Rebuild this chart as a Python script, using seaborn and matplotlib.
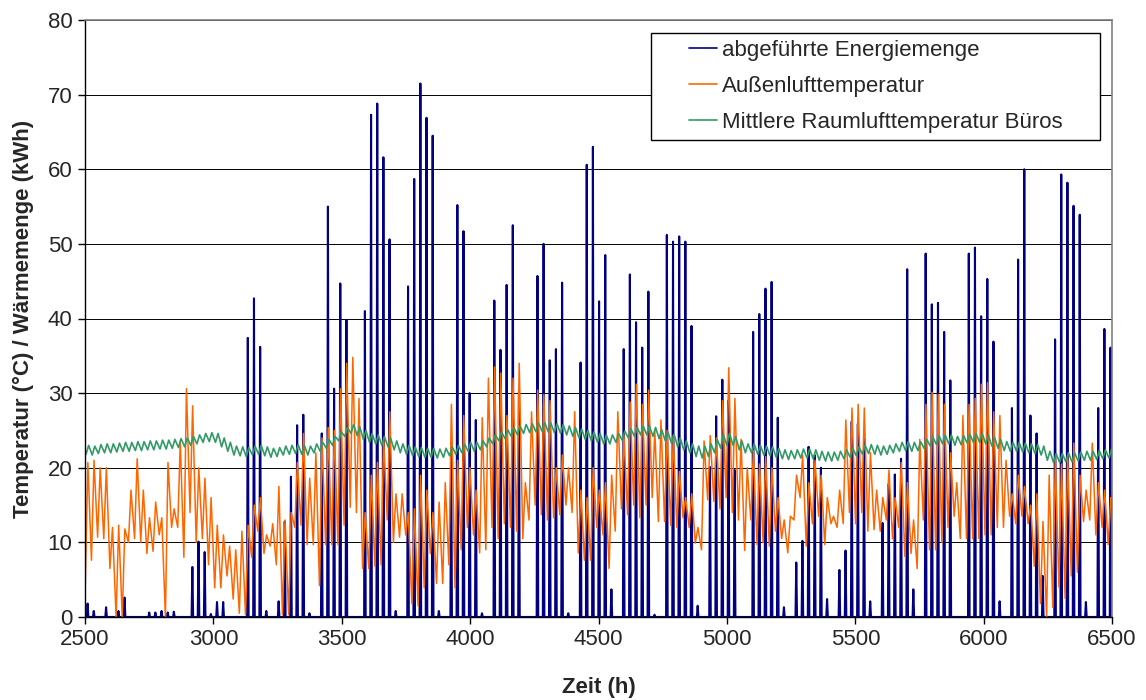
import numpy as np
import matplotlib
matplotlib.use("Agg")
import matplotlib.pyplot as plt
import seaborn as sns

# hourly simulation, 2500 h .. 6500 h, one value per day
start_hour = 2500
end_hour = 6500

# daily peak of the removed energy (kWh)
energy_peak = [1.8, 0.8, 0, 1.3, 0, 0.8, 2.6, 0, 0, 0,
               0.6, 0.6, 0.8, 0.6, 0.7, 0, 0, 6.7, 10.1, 8.7,
               0.4, 2.0, 2.0, 0, 0, 0, 37.4, 42.7, 36.2, 0.8,
               0, 2.1, 12.8, 18.8, 25.7, 27.1, 0.5, 0, 24.6, 55.0,
               30.6, 44.7, 39.8, 0, 0, 41.0, 67.3, 68.8, 61.6, 50.6,
               0.8, 0, 44.3, 58.7, 71.5, 66.9, 64.5, 0.8, 0, 23.3,
               55.2, 51.7, 30.0, 26.4, 0.5, 0, 42.4, 35.8, 44.5, 52.5,
               30.2, 0, 0, 45.7, 50.0, 34.4, 35.9, 44.8, 0.5, 0,
               34.1, 60.6, 63.0, 42.3, 48.5, 3.7, 0, 35.9, 45.9, 39.5,
               36.1, 43.6, 0.3, 0, 51.2, 50.3, 51.0, 50.3, 39.0, 1.5,
               0, 20.1, 26.9, 31.8, 29.0, 19.7, 0, 0, 38.2, 40.6,
               44.0, 44.9, 26.7, 1.3, 0, 7.3, 10.2, 22.8, 21.7, 20.0,
               2.4, 0, 6.3, 8.9, 26.2, 25.9, 23.8, 2.1, 0, 12.6,
               17.8, 19.1, 21.2, 46.6, 3.7, 0, 48.7, 41.9, 42.1, 38.2,
               31.7, 0, 0, 48.7, 49.5, 40.3, 45.3, 36.9, 2.1, 0,
               28.0, 47.9, 60.0, 27.0, 24.6, 5.5, 0, 37.2, 59.3, 58.2,
               55.1, 53.9, 2.0, 0, 28.0, 38.6, 36.1]

# outdoor air temperature, daily max / min (°C)
outdoor_max = [20.7, 21.0, 20.0, 20.0, 12.0, 12.3, 11.8, 17.0, 21.2, 17.0,
               13.3, 15.4, 13.3, 20.7, 14.5, 23.6, 30.6, 28.3, 20.0, 18.6,
               16.0, 12.3, 11.0, 9.5, 9.0, 11.5, 12.3, 15.0, 16.0, 11.0,
               12.5, 17.5, 13.0, 14.0, 20.7, 24.6, 18.6, 22.0, 24.0, 25.4,
               25.0, 30.6, 34.0, 34.8, 29.3, 14.0, 19.0, 20.7, 24.0, 27.5,
               16.5, 16.5, 14.0, 14.5, 19.0, 17.0, 14.0, 15.4, 18.0, 28.5,
               21.0, 27.0, 20.0, 17.0, 26.7, 32.0, 33.5, 32.7, 27.0, 32.0,
               34.0, 18.0, 27.5, 30.4, 29.8, 29.0, 20.0, 21.7, 20.0, 27.5,
               17.0, 16.0, 20.0, 17.0, 18.0, 19.0, 27.5, 24.3, 28.8, 31.2,
               28.5, 30.4, 25.0, 26.4, 25.0, 24.3, 19.5, 16.0, 16.5, 12.0,
               23.6, 24.3, 24.0, 29.0, 33.4, 29.3, 23.8, 20.0, 22.3, 20.5,
               21.5, 20.0, 16.0, 13.0, 13.5, 19.0, 21.7, 18.0, 21.0, 19.0,
               16.0, 13.5, 17.0, 26.4, 28.0, 28.5, 28.0, 22.0, 17.0, 16.0,
               19.7, 16.0, 20.7, 18.0, 13.0, 23.8, 28.5, 30.1, 29.8, 28.5,
               22.0, 18.0, 27.0, 28.5, 29.3, 31.2, 31.4, 27.5, 27.0, 21.0,
               16.5, 19.0, 17.5, 15.0, 16.5, 12.8, 19.0, 21.2, 20.5, 21.7,
               23.3, 19.0, 17.0, 23.3, 18.0, 17.0, 16.0]
outdoor_min = [4.5, 7.6, 10.7, 10.5, 6.5, 0.0, 0.0, 10.0, 10.5, 10.0,
               8.5, 8.8, 11.0, 0.0, 12.0, 12.0, 8.0, 14.0, 10.0, 10.5,
               7.0, 3.9, 3.9, 5.5, 2.4, 0.5, 0.3, 8.0, 11.5, 8.5,
               9.5, 7.0, 0.3, 0.3, 12.0, 12.3, 9.7, 9.7, 4.2, 9.7,
               9.7, 9.7, 12.3, 14.7, 14.0, 6.5, 6.5, 6.8, 7.0, 13.0,
               10.0, 10.7, 11.0, 1.8, 1.5, 3.9, 8.5, 4.5, 4.5, 7.0,
               3.9, 9.0, 12.0, 11.0, 8.6, 9.0, 12.0, 10.5, 12.5, 12.0,
               11.5, 10.5, 13.0, 15.0, 13.7, 13.0, 13.3, 13.7, 15.0, 14.0,
               8.6, 7.6, 7.6, 12.0, 11.0, 6.5, 11.5, 14.5, 13.7, 15.0,
               13.3, 15.0, 16.0, 12.8, 12.8, 12.3, 12.0, 13.3, 12.0, 9.9,
               9.0, 15.7, 15.5, 14.5, 16.0, 14.0, 13.0, 8.9, 13.0, 9.7,
               10.0, 9.5, 11.5, 10.5, 8.6, 13.0, 16.0, 9.5, 12.5, 13.5,
               9.7, 12.5, 12.0, 12.5, 14.0, 12.5, 14.0, 11.5, 11.7, 11.5,
               13.0, 10.5, 12.0, 8.1, 8.5, 6.5, 13.0, 9.0, 9.0, 10.0,
               12.0, 13.5, 10.5, 10.5, 10.5, 10.5, 11.0, 11.0, 12.0, 12.0,
               13.5, 12.5, 13.5, 12.5, 6.8, 1.8, 0.0, 1.3, 4.0, 2.5,
               5.5, 6.0, 12.8, 13.0, 11.0, 12.0, 9.7]

# mean office room air temperature, daily max / min (°C)
room_max = [23.0, 22.9, 23.1, 23.2, 23.2,
            23.3, 23.4, 23.4, 23.5, 23.5, 23.6, 23.6, 23.7, 23.7, 23.8, 23.9,
            24.0, 24.2, 24.4, 24.6, 24.7, 24.6,
            24.0, 23.4, 22.9,
            22.8, 22.7, 22.9, 23.0, 22.8, 22.6, 22.7, 22.9, 23.0, 23.1, 23.0, 22.9, 23.2, 23.4, 23.8, 24.2,
            24.8, 25.4, 25.8, 25.5,
            25.0, 24.6, 24.4, 24.2, 24.0, 23.6,
            23.2, 23.0, 22.8, 22.7, 22.6, 22.6, 22.5, 22.6, 22.8, 23.0,
            23.2, 23.4, 23.4, 23.6,
            24.0, 24.4, 24.8, 25.1, 25.4, 25.6,
            25.8, 25.9, 26.0, 26.1, 26.0, 25.9, 25.8, 25.6, 25.4, 25.2,
            25.0, 24.8, 24.6, 24.4, 24.4, 24.6, 24.9, 25.2, 25.4, 25.6,
            25.6, 25.4, 25.1, 24.8, 24.5,
            24.0, 23.6, 23.2, 22.9, 22.9,
            23.2, 23.8, 24.4, 24.6,
            24.2, 23.6, 23.2, 23.2,
            23.0, 22.9, 22.8, 22.6,
            22.4, 22.3, 22.4, 22.5, 22.5, 22.4, 22.2, 22.1, 22.1, 22.2, 22.4, 22.6,
            22.8, 23.0, 23.1, 23.0, 22.9, 23.0,
            23.2, 23.4, 23.5, 23.4, 23.5,
            23.8, 24.1, 24.3, 24.4, 24.4, 24.2, 24.3, 24.5, 24.6, 24.6, 24.4, 24.1,
            23.8, 23.5, 23.4, 23.4, 23.3, 23.2, 23.1, 22.9,
            22.2, 21.9, 21.9, 22.0, 22.0, 22.1, 22.2, 22.2, 22.3, 22.4, 22.5]
room_min = [21.8, 21.7, 21.9, 22.0, 22.0,
            22.1, 22.2, 22.2, 22.3, 22.3, 22.4, 22.4, 22.5, 22.5, 22.6, 22.7,
            22.8, 23.0, 23.2, 23.4, 23.5, 23.4,
            22.8, 22.2, 21.7,
            21.6, 21.5, 21.7, 21.8, 21.6, 21.4, 21.5, 21.7, 21.8, 21.9, 21.8, 21.7, 22.0, 22.2, 22.6, 23.0,
            23.6, 24.2, 24.6, 24.3,
            23.8, 23.4, 23.2, 23.0, 22.8, 22.4,
            22.0, 21.8, 21.6, 21.5, 21.4, 21.4, 21.3, 21.4, 21.6, 21.8,
            22.0, 22.2, 22.2, 22.4,
            22.8, 23.2, 23.6, 23.9, 24.2, 24.4,
            24.6, 24.7, 24.8, 24.9, 24.8, 24.7, 24.6, 24.4, 24.2, 24.0,
            23.8, 23.6, 23.4, 23.2, 23.2, 23.4, 23.7, 24.0, 24.2, 24.4,
            24.4, 24.2, 23.9, 23.6, 23.3,
            22.8, 22.4, 22.0, 21.5, 21.3,
            21.5, 22.0, 22.6, 23.0,
            23.0, 22.4, 22.0, 22.0,
            21.8, 21.7, 21.6, 21.4,
            21.2, 21.1, 21.2, 21.3, 21.3, 21.2, 21.0, 20.9, 20.9, 21.0, 21.2, 21.4,
            21.6, 21.8, 21.9, 21.8, 21.7, 21.8,
            22.0, 22.2, 22.3, 22.2, 22.3,
            22.6, 22.9, 23.1, 23.2, 23.2, 23.0, 23.1, 23.3, 23.4, 23.4, 23.2, 22.9,
            22.6, 22.3, 22.2, 22.2, 22.1, 22.0, 21.9, 21.7,
            21.0, 20.7, 20.7, 20.8, 20.8, 20.9, 21.0, 21.0, 21.1, 21.2, 21.3]

series_names = ["abgeführte Energiemenge",
                "Außenlufttemperatur",
                "Mittlere Raumlufttemperatur Büros"]
x_ticks = [2500, 3000, 3500, 4000, 4500, 5000, 5500, 6000, 6500]
y_ticks = [0, 10, 20, 30, 40, 50, 60, 70, 80]


def main():
    n = len(energy_peak)
    day0 = start_hour + 24 * np.arange(n)
    zero = np.zeros(n)

    # energy: off at night, one spike in the afternoon
    e_t = np.column_stack([day0, day0 + 7, day0 + 10, day0 + 13]).ravel()
    e_v = np.column_stack([zero, zero, energy_peak, zero]).ravel()
    # temperatures: morning minimum, afternoon maximum
    o_t = np.column_stack([day0 + 1, day0 + 11]).ravel()
    o_v = np.column_stack([outdoor_min, outdoor_max]).ravel()
    r_t = np.column_stack([day0 + 4, day0 + 14]).ravel()
    r_v = np.column_stack([room_min, room_max]).ravel()

    sns.set_style("white")
    plt.rcParams["font.family"] = ["Liberation Sans", "DejaVu Sans"]

    fig = plt.figure(figsize=(11.46, 7), dpi=100)
    ax = fig.add_axes([0.0742, 0.1186, 0.8962, 0.8528])

    ax.yaxis.grid(True, color="black", linewidth=0.7)
    ax.set_axisbelow(True)

    sns.lineplot(x=e_t, y=e_v, ax=ax, color="#000080", linewidth=1.5,
                 sort=False, estimator=None, label=series_names[0])
    sns.lineplot(x=o_t, y=o_v, ax=ax, color="#FF6600", linewidth=1.1,
                 sort=False, estimator=None, label=series_names[1])
    sns.lineplot(x=r_t, y=r_v, ax=ax, color="#339966", linewidth=1.2,
                 sort=False, estimator=None, label=series_names[2])

    ax.set_xlim(start_hour, end_hour)
    ax.set_ylim(0, 80)
    ax.set_xticks(x_ticks)
    ax.set_yticks(y_ticks)
    ax.tick_params(axis="both", labelsize=16, direction="out",
                   length=5, width=1, color="black", pad=4, left=True, bottom=True)

    for side in ["left", "bottom"]:
        ax.spines[side].set_color("black")
        ax.spines[side].set_linewidth(1)
    for side in ["top", "right"]:
        ax.spines[side].set_color("#808080")
        ax.spines[side].set_linewidth(1.2)

    ax.set_xlabel("Zeit (h)", fontsize=16, fontweight="bold", labelpad=19)
    ax.set_ylabel("Temperatur (°C) / Wärmemenge (kWh)", fontsize=16,
                  fontweight="bold", labelpad=10)

    # wide Excel-style legend box with short line keys
    leg = ax.legend(loc="upper left", bbox_to_anchor=(0.551, 0.0, 0.4372, 0.978),
                    mode="expand", borderaxespad=0, fontsize=16, frameon=True,
                    fancybox=False, framealpha=1, edgecolor="black",
                    handlelength=2.66, handletextpad=0.23, labelspacing=0.68,
                    borderpad=0.3)
    leg.get_frame().set_linewidth(1)
    for line in leg.get_lines():
        xd = np.asarray(line.get_xdata(), dtype=float)
        line.set_xdata([xd[0] + 0.525 * (xd[-1] - xd[0]), xd[-1]])
        line.set_ydata(line.get_ydata()[:2])
        line.set_linewidth(1.2)

    fig.savefig("out.png", dpi=100, facecolor="white")


if __name__ == "__main__":
    main()
